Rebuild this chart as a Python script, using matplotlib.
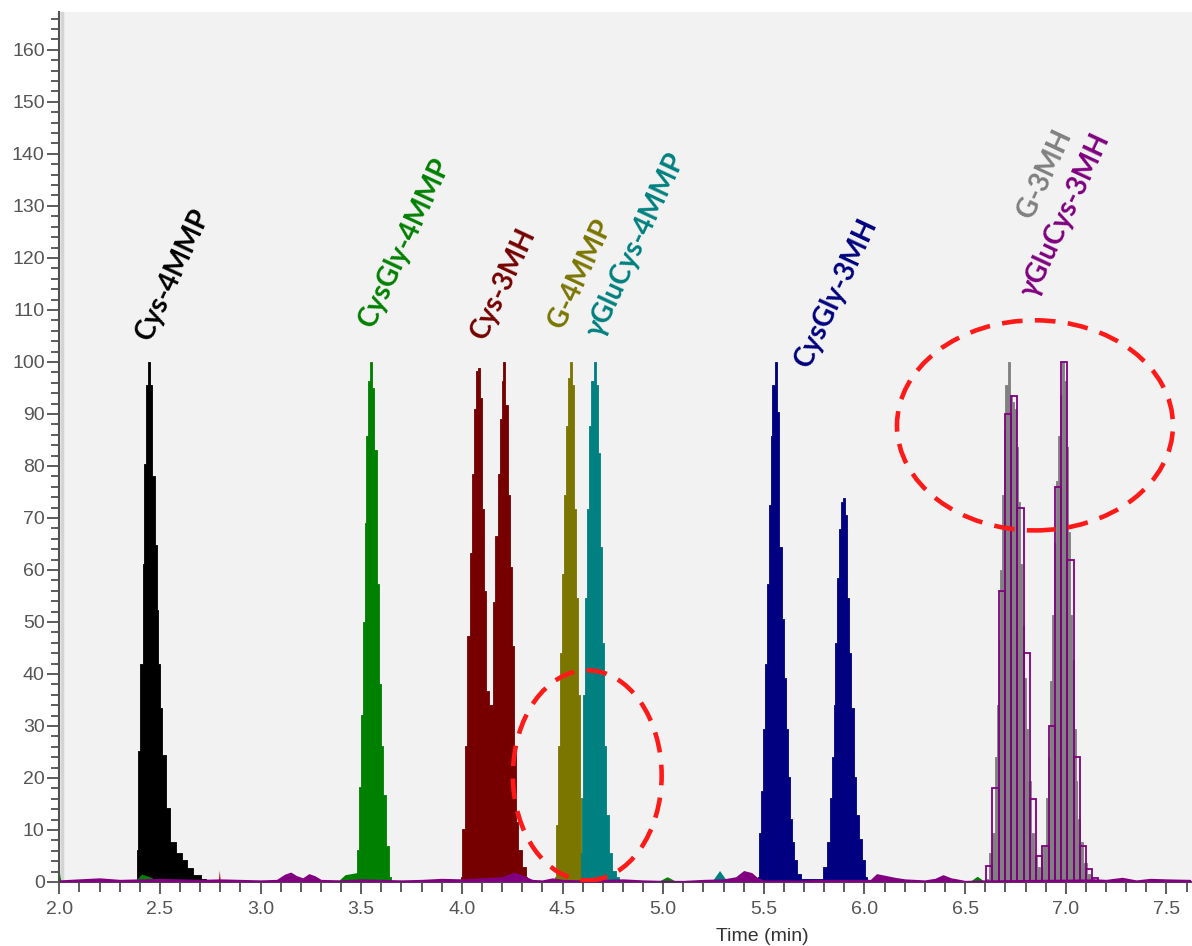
import matplotlib.pyplot as plt
from matplotlib.patches import Ellipse

# Chromatogram traces (time in min, relative abundance)
t_cys4 = [2.381, 2.389, 2.397, 2.410, 2.419, 2.425, 2.435, 2.447, 2.458, 2.468, 2.480,
          2.490, 2.496, 2.505, 2.518, 2.538, 2.562, 2.596, 2.620, 2.645, 2.679, 2.728]
i_cys4 = [0.3, 6.2, 25.1, 42.0, 61.2, 80.4, 95.6, 99.9, 95.6, 78.1, 64.8,
          52.2, 42.0, 33.4, 24.4, 14.2, 7.6, 5.6, 4.2, 2.6, 1.3, 0.6]

t_cg4 = [3.473, 3.481, 3.493, 3.503, 3.514, 3.522, 3.530, 3.542, 3.550, 3.560, 3.572,
         3.582, 3.592, 3.602, 3.615, 3.630, 3.647]
i_cg4 = [0.9, 6.2, 18.2, 32.1, 49.9, 69.1, 85.7, 96.3, 99.9, 95.0, 83.0,
         57.2, 38.0, 26.1, 16.8, 6.9, 0.9]

t_cys3 = [3.994, 4.010, 4.022, 4.032, 4.049, 4.055, 4.065, 4.072, 4.085, 4.094, 4.102,
          4.114, 4.127, 4.138, 4.151, 4.159, 4.173, 4.184, 4.193, 4.201, 4.212, 4.221,
          4.234, 4.246, 4.254, 4.264, 4.275, 4.287, 4.308, 4.325]
i_cys3 = [0.9, 10.2, 26.1, 47.3, 63.2, 78.4, 91.0, 98.3, 98.9, 93.0, 71.8,
          55.9, 36.7, 34.0, 34.0, 53.9, 66.5, 78.4, 89.0, 96.3, 99.9, 91.7,
          74.4, 60.5, 45.3, 24.8, 11.5, 6.2, 2.9, 0.9]

t_g4 = [4.462, 4.469, 4.482, 4.494, 4.504, 4.512, 4.523, 4.532, 4.542, 4.552, 4.561,
        4.573, 4.581, 4.590, 4.598, 4.610]
i_g4 = [0.9, 10.9, 26.1, 44.0, 59.2, 74.4, 87.7, 96.9, 99.9, 95.6, 71.8,
        54.6, 36.0, 16.2, 5.0, 0.9]

t_gc4 = [4.590, 4.594, 4.598, 4.606, 4.618, 4.627, 4.639, 4.647, 4.661, 4.669, 4.681,
         4.692, 4.703, 4.711, 4.723, 4.739, 4.755, 4.780]
i_gc4 = [0.9, 5.6, 16.2, 36.0, 54.6, 71.8, 87.7, 96.3, 99.9, 95.6, 82.4,
         64.5, 46.0, 26.1, 12.8, 5.6, 2.2, 0.9]

t_cg3 = [5.470, 5.478, 5.491, 5.500, 5.508, 5.519, 5.529, 5.538, 5.546, 5.561, 5.571,
         5.582, 5.594, 5.604, 5.612, 5.624, 5.635, 5.645, 5.657, 5.673, 5.695,
         5.789, 5.801, 5.822, 5.834, 5.844, 5.851, 5.857, 5.867, 5.877, 5.885, 5.897,
         5.908, 5.918, 5.930, 5.941, 5.951, 5.963, 5.980, 5.992, 6.012]
i_cg3 = [0.9, 9.5, 17.5, 29.4, 42.0, 57.2, 72.5, 85.7, 95.6, 99.9, 90.3,
         64.5, 50.6, 39.3, 29.4, 20.1, 12.2, 7.6, 4.2, 1.6, 0.6,
         0.6, 2.9, 7.6, 16.2, 24.1, 34.0, 46.0, 58.5, 67.8, 73.1, 73.8,
         70.5, 54.6, 44.0, 33.4, 20.1, 12.8, 8.2, 4.2, 0.9]

t_g3 = [6.608, 6.625, 6.641, 6.653, 6.663, 6.670, 6.680, 6.688, 6.696, 6.705, 6.719,
        6.727, 6.737, 6.749, 6.760, 6.768, 6.778, 6.787, 6.795, 6.807, 6.818, 6.835,
        6.851, 6.868, 6.873, 6.881, 6.893, 6.906, 6.918, 6.926, 6.935, 6.944, 6.956,
        6.964, 6.976, 6.989, 6.998, 7.006, 7.014, 7.024, 7.034, 7.044, 7.053, 7.063,
        7.077, 7.093, 7.113, 7.138]
i_g3 = [0.6, 5.6, 9.5, 24.1, 34.0, 46.6, 59.9, 74.4, 87.0, 95.6, 99.9,
        93.6, 92.3, 91.0, 83.7, 73.1, 61.2, 49.3, 39.3, 29.4, 19.5, 9.5,
        4.9, 2.9, 0.9, 2.9, 6.9, 16.2, 24.1, 38.7, 51.3, 65.2, 77.1,
        85.7, 93.6, 99.9, 96.3, 83.7, 67.2, 51.3, 42.7, 29.4, 19.5, 12.2,
        7.6, 3.6, 1.6, 0.6]

t_gc3 = [6.620, 6.651, 6.682, 6.713, 6.744, 6.775, 6.806, 6.837, 6.868, 6.899,
         6.930, 6.961, 6.992, 7.023, 7.054, 7.085, 7.116, 7.147]
i_gc3 = [3.0, 18.0, 56.0, 90.0, 93.5, 72.0, 44.0, 16.0, 5.0, 7.0,
         30.0, 76.0, 100.0, 62.0, 24.0, 7.0, 2.5, 0.8]

# baseline noise
t_noise_p = [2.00, 2.10, 2.20, 2.30, 2.40, 2.50, 2.60, 2.70, 2.80, 2.90, 3.00, 3.08,
             3.12, 3.15, 3.18, 3.21, 3.24, 3.27, 3.30, 3.40, 3.50, 3.60, 3.70, 3.80,
             3.90, 4.00, 4.10, 4.20, 4.26, 4.29, 4.35, 4.40, 4.45, 4.50, 4.60, 4.70,
             4.80, 4.90, 5.00, 5.10, 5.20, 5.30, 5.36, 5.40, 5.44, 5.47, 5.50, 5.70,
             5.75, 6.03, 6.06, 6.10, 6.15, 6.20, 6.30, 6.35, 6.39, 6.43, 6.50, 6.60,
             7.15, 7.20, 7.28, 7.35, 7.42, 7.50, 7.62]
i_noise_p = [0.4, 0.6, 0.8, 0.5, 0.6, 0.7, 0.6, 0.5, 0.6, 0.5, 0.4, 0.5,
             1.5, 1.9, 1.2, 0.8, 1.6, 1.2, 0.5, 0.4, 0.6, 0.5, 0.4, 0.5,
             0.7, 0.6, 0.8, 1.0, 1.9, 1.5, 0.5, 0.4, 0.8, 0.5, 0.4, 0.5,
             0.6, 0.4, 0.3, 0.3, 0.5, 0.6, 1.0, 2.2, 1.8, 0.8, 0.4, 0.4,
             0.5, 0.5, 1.6, 1.3, 0.9, 0.6, 0.4, 0.7, 1.4, 0.8, 0.3, 0.4,
             0.6, 0.5, 0.9, 0.4, 0.7, 0.6, 0.5]
t_noise_g = [2.000, 2.004, 2.010, 2.37, 2.41, 2.45, 2.50, 3.38, 3.42, 3.48, 3.50,
             4.97, 5.02, 5.07, 6.52, 6.56, 6.60]
i_noise_g = [2.2, 1.0, 0.0, 0.0, 1.5, 1.0, 0.0, 0.0, 1.4, 1.8, 0.0,
             0.0, 1.0, 0.0, 0.0, 1.1, 0.0]
t_noise_t = [5.24, 5.28, 5.32]
i_noise_t = [0.0, 2.2, 0.0]
t_noise_r = [2.790, 2.795, 2.800]
i_noise_r = [0.0, 2.3, 0.0]

labels = ['Cys-4MMP', 'CysGly-4MMP', 'Cys-3MH', 'G-4MMP', 'γGluCys-4MMP',
          'CysGly-3MH', 'G-3MH', 'γGluCys-3MH']
label_x = [2.455, 3.560, 4.115, 4.502, 4.690, 5.725, 6.830, 6.845]
label_y = [103.8, 106.4, 104.0, 106.1, 104.5, 98.7, 127.2, 112.2]
colors = ['#000000', '#008000', '#760000', '#7a7600', '#008080',
          '#000080', '#808080', '#800080']

fig = plt.figure(figsize=(11.92, 9.46), dpi=100)
ax = fig.add_axes([0.0497, 0.0677, 0.9503, 0.9197])
ax.set_facecolor('#f2f2f2')

traces = [(t_cys4, i_cys4), (t_cg4, i_cg4), (t_cys3, i_cys3), (t_g4, i_g4),
          (t_gc4, i_gc4), (t_cg3, i_cg3), (t_g3, i_g3)]
for (t, i), c in zip(traces, colors[:7]):
    ax.fill_between(t, 0, i, step='mid', color=c, linewidth=0.6, edgecolor=c, zorder=2)

# purple trace drawn as outlined bars over the gray one
ax.bar(t_gc3, i_gc3, width=0.031, fill=False, edgecolor=colors[7],
       linewidth=1.3, zorder=3)

ax.fill_between(t_noise_g, 0, i_noise_g, color='#008000', lw=0, zorder=3)
ax.fill_between(t_noise_t, 0, i_noise_t, color='#008080', lw=0, zorder=3)
ax.fill_between(t_noise_r, 0, i_noise_r, color='#c00000', lw=0, zorder=3)
ax.fill_between(t_noise_p, 0, i_noise_p, color='#800080', lw=0, zorder=3)

for lab, x, y, c in zip(labels, label_x, label_y, colors):
    ax.text(x, y, lab, color=c, rotation=65, rotation_mode='anchor',
            ha='left', va='baseline', fontsize=20, fontweight='bold',
            family=['Lato', 'DejaVu Sans'], zorder=4)

dash = (0, (4.5, 2.7))
ax.add_patch(Ellipse((4.623, 20.5), 0.739, 40.4, fill=False, edgecolor='#ff1a1a',
                     lw=3.3, linestyle=dash, zorder=5))
ax.add_patch(Ellipse((6.847, 87.8), 1.371, 40.4, fill=False, edgecolor='#ff1a1a',
                     lw=3.3, linestyle=dash, zorder=5))

ax.set_xlim(2.0, 7.627)
ax.set_ylim(0, 167.3)
ax.set_xticks([2.0 + 0.5 * k for k in range(12)])
ax.set_xticks([2.0 + 0.1 * k for k in range(57)], minor=True)
ax.set_yticks(range(0, 161, 10))
ax.set_yticks(range(0, 167, 2), minor=True)
ax.xaxis.set_major_formatter(plt.FormatStrFormatter('%.1f'))

for s in ['top', 'right']:
    ax.spines[s].set_visible(False)
for s in ['left', 'bottom']:
    ax.spines[s].set_color('#505050')
    ax.spines[s].set_linewidth(1.5)
ax.axvline(2.012, color='#d4d4d4', lw=2.5, zorder=1)

ax.tick_params(axis='y', which='major', length=9, width=1.3, color='#505050',
               labelsize=14, labelcolor='#555555', pad=1.5)
ax.tick_params(axis='y', which='minor', length=5.5, width=1.3, color='#505050')
ax.tick_params(axis='x', which='major', length=8.5, width=1.3, color='#505050',
               labelsize=14, labelcolor='#555555', pad=5)
ax.tick_params(axis='x', which='minor', length=7, width=1.3, color='#505050')
for lab in ax.get_xticklabels() + ax.get_yticklabels():
    lab.set_family('Liberation Sans')

ax.set_xlabel('Time (min)', fontsize=14, color='#333333', family='Liberation Sans')
ax.xaxis.set_label_coords(0.621, -0.063)
ax.xaxis.label.set_va('center')

fig.savefig('out.png', dpi=100)
